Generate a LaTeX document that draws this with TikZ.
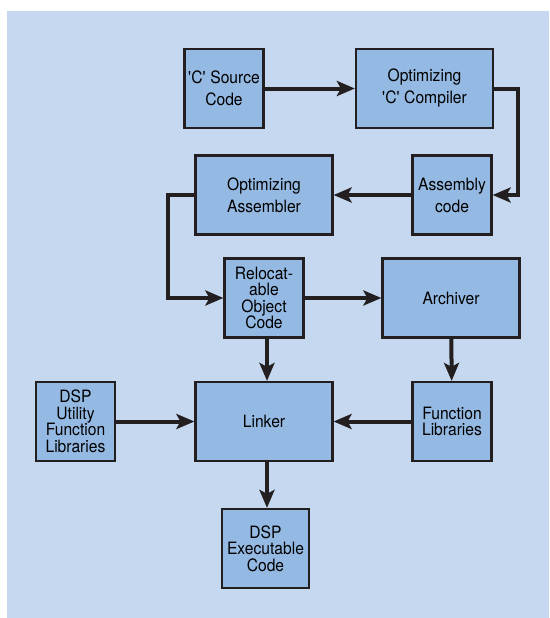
\documentclass[tikz,border=0pt]{standalone}
\usepackage{fontspec}
\setmainfont[FakeStretch=0.92]{TeX Gyre Heros}
\usetikzlibrary{arrows.meta}

\definecolor{panelblue}{RGB}{197,216,239}
\definecolor{boxblue}{RGB}{148,185,226}
\definecolor{boxline}{RGB}{35,31,32}

\tikzset{
    block/.style = {draw=boxline, fill=boxblue, line width=2.2pt, align=center,
        inner sep=0pt, minimum height=79pt, font=\fontsize{17}{22}\selectfont},
    narrow/.style = {block, minimum width=79pt},
    wide/.style = {block, minimum width=137pt},
    tight/.style = {font=\fontsize{17}{16.5}\selectfont},
    flow/.style = {draw=boxline, line width=4pt,
        -{Stealth[length=18pt, width=15pt, inset=4pt]}}
}

\begin{document}
\begin{tikzpicture}[x=1pt, y=-1pt]
        \def \colA {75.5};
        \def \colB {264};
        \def \colC {452};
        \def \rowA {88.5};
        \def \rowB {195};
        \def \rowC {298};
        \def \rowD {421.5};

        % фон
        \useasboundingbox ( 0, 0 ) rectangle ( 549, 618 );
        \fill [panelblue] ( 7, 11 ) rectangle ( 549, 618 );

        % блоки
        \node [narrow] (src) at ( 224, \rowA ) {\textquotesingle C\textquotesingle{} Source\\Code};
        \node [wide] (comp) at ( 424.5, \rowA ) {Optimizing\\\textquotesingle C\textquotesingle{} Compiler};
        \node [narrow] (asmcode) at ( \colC, \rowB ) {Assembly\\code};
        \node [wide] (asmopt) at ( \colB, \rowB ) {Optimizing\\Assembler};
        \node [narrow, tight] (reloc) at ( \colB, \rowC ) {Relocat-\\able\\Object\\Code};
        \node [wide] (arch) at ( 451, \rowC ) {Archiver};
        \node [wide] (link) at ( \colB, \rowD ) {Linker};
        \node [narrow, tight] (dsplib) at ( \colA, \rowD ) {DSP\\Utility\\Function\\Libraries};
        \node [narrow, tight] (funclib) at ( \colC, \rowD ) {Function\\Libraries};
        \node [block, minimum width=87pt, tight] (exec) at ( 265.5, 548.5 ) {DSP\\Executable\\Code};

        % стрелки
        \draw [flow] (src) -- (comp);
        \draw [flow] (comp.east) -- ++( 24, 0 ) |- (asmcode.east);
        \draw [flow] (asmcode) -- (asmopt);
        \draw [flow] (asmopt.west) -- ++( -26, 0 ) |- (reloc.west);
        \draw [flow] (reloc) -- (arch);
        \draw [flow] ([xshift=3pt]reloc.south) -- ([xshift=3pt]link.north);
        \draw [flow] (arch) -- (funclib);
        \draw [flow] (dsplib) -- (link);
        \draw [flow] (funclib) -- (link);
        \draw [flow] ([xshift=3pt]link.south) -- ([xshift=3pt]link.south |- exec.north);
    \end{tikzpicture}
\end{document}
